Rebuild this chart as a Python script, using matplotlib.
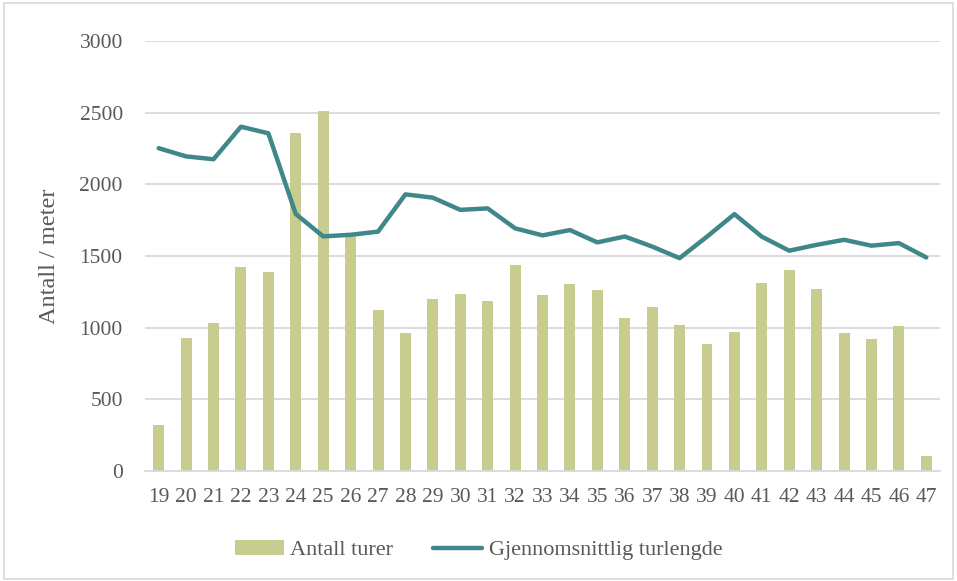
import numpy as np
import matplotlib.pyplot as plt
from matplotlib.patches import Rectangle

# ---- Data ----
weeks = [str(w) for w in range(19, 48)]
antall_turer = [320, 930, 1030, 1425, 1385, 2355, 2515, 1660, 1120, 965,
                1200, 1235, 1185, 1440, 1230, 1305, 1262, 1066, 1145, 1020,
                885, 972, 1310, 1405, 1272, 960, 920, 1012, 105]
turlengde = [2252, 2195, 2175, 2402, 2356, 1793, 1637, 1648, 1670, 1930,
             1907, 1822, 1832, 1693, 1644, 1681, 1595, 1636, 1566, 1485,
             1635, 1792, 1635, 1537, 1578, 1613, 1572, 1590, 1490]

# ---- Style ----
BAR_COLOR = "#C8CD8F"
LINE_COLOR = "#40878A"
GRID_COLOR = "#D9D9D9"
TEXT_COLOR = "#595959"
plt.rcParams['font.family'] = ['Liberation Serif', 'DejaVu Serif']
FS = 15.5

fig = plt.figure(figsize=(9.57, 5.81), dpi=100)
ax = fig.add_axes([145 / 957, 1 - 471 / 581, 795 / 957, 430 / 581])

x = np.arange(len(weeks))
bars = ax.bar(x, antall_turer, width=0.4, color=BAR_COLOR, label="Antall turer", zorder=2)
line, = ax.plot(x, turlengde, color=LINE_COLOR, linewidth=3.2, solid_capstyle='round',
                label="Gjennomsnittlig turlengde", zorder=3)

ax.set_xlim(-0.5, len(weeks) - 0.5)
ax.set_ylim(0, 3000)
ax.set_yticks(range(0, 3001, 500))
ax.set_xticks(x)
ax.set_xticklabels(weeks)
ax.yaxis.grid(True, color=GRID_COLOR, linewidth=1.3, zorder=0)
ax.set_axisbelow(True)
for side in ["top", "right", "left"]:
    ax.spines[side].set_visible(False)
ax.spines["bottom"].set_color(GRID_COLOR)
ax.spines["bottom"].set_linewidth(1.3)
ax.tick_params(axis='both', length=0, labelsize=FS, colors=TEXT_COLOR)
ax.tick_params(axis='y', pad=16)
ax.tick_params(axis='x', pad=12)
ax.set_ylabel("Antall / meter", fontsize=FS + 2, color=TEXT_COLOR, labelpad=14)

leg = fig.legend([bars, line], ["Antall turer", "Gjennomsnittlig turlengde"],
                 loc='center', bbox_to_anchor=(0.5, 1 - 550 / 581), ncol=2,
                 frameon=False, fontsize=FS + 0.5, handlelength=2.2, columnspacing=1.8,
                 handletextpad=0.3)
for t in leg.get_texts():
    t.set_color(TEXT_COLOR)

# light border around the whole chart
fig.patches.append(Rectangle((0.004, 0.004), 0.992, 0.99, transform=fig.transFigure,
                             fill=False, edgecolor=GRID_COLOR, linewidth=1.2))

fig.savefig("out.png", dpi=100)
